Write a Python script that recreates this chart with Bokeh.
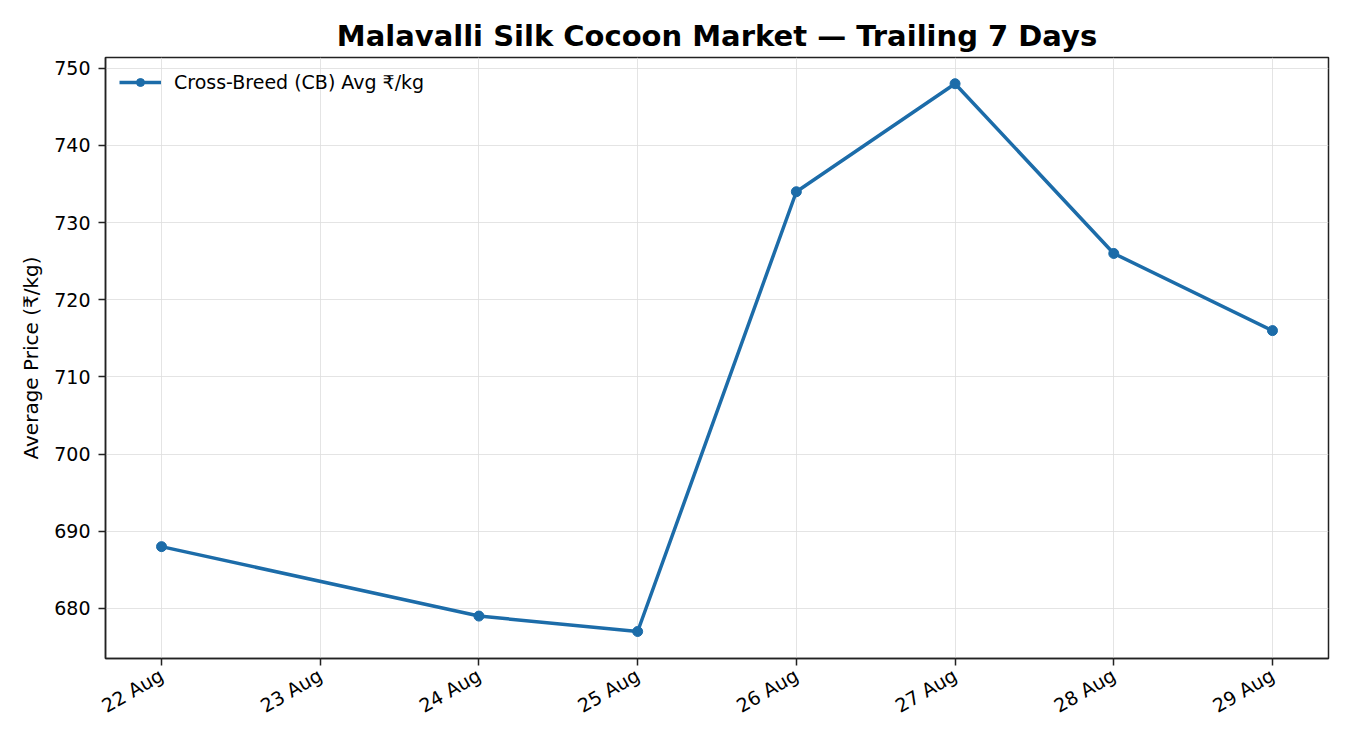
import math
from datetime import datetime, timedelta
from bokeh.plotting import figure
from bokeh.models import Range1d, DatetimeTickFormatter, DaysTicker, Legend, LegendItem, ColumnDataSource
from bokeh.embed import file_html
from bokeh.resources import INLINE

dates = ["2024-08-22", "2024-08-24", "2024-08-25", "2024-08-26", "2024-08-27", "2024-08-28", "2024-08-29"]
prices = [688, 679, 677, 734, 748, 726, 716]
y_ticks = [680, 690, 700, 710, 720, 730, 740, 750]
series_label = "Cross-Breed (CB) Avg ₹/kg"
title_text = "Malavalli Silk Cocoon Market — Trailing 7 Days"
y_label = "Average Price (₹/kg)"

x = [datetime.strptime(d, "%Y-%m-%d") for d in dates]
src = ColumnDataSource(dict(x=x, y=prices))

color = "#1c6ca9"
FONT = "DejaVu Sans"

start = x[0] - timedelta(days=0.353)
end = x[-1] + timedelta(days=0.353)

p = figure(width=1350, height=750, output_backend="svg", toolbar_location=None,
           x_axis_type="datetime",
           x_range=Range1d(start, end), y_range=Range1d(673.5, 751.4),
           min_border_left=105, min_border_right=22, min_border_top=57, min_border_bottom=92)

p.title.text = title_text
p.title.align = "center"
p.title.text_font = FONT
p.title.text_font_size = "29px"
p.title.text_font_style = "bold"
p.title.text_color = "black"
p.title.standoff = 10

line_r = p.line("x", "y", source=src, line_color=color, line_width=3.5)
pt_r = p.scatter("x", "y", source=src, size=10, fill_color=color, line_color=color)

legend = Legend(items=[LegendItem(label=series_label, renderers=[line_r, pt_r])],
                location="top_left", border_line_color=None, background_fill_alpha=0,
                label_text_font=FONT, label_text_font_size="19px", label_text_color="black",
                glyph_width=42, glyph_height=20, padding=4, margin=14, label_standoff=13)
p.add_layout(legend, "center")

p.xaxis.ticker = DaysTicker(days=list(range(1, 32)))
p.xaxis.formatter = DatetimeTickFormatter(days="%d %b", months="%d %b")
p.xaxis.major_label_orientation = math.pi / 6
p.yaxis.ticker = y_ticks
p.yaxis.axis_label = y_label
p.yaxis.axis_label_standoff = 8

for ax in (p.xaxis, p.yaxis):
    ax.major_label_text_font = FONT
    ax.major_label_text_font_size = "19px"
    ax.major_label_text_color = "black"
    ax.major_label_standoff = 8
    ax.axis_label_text_font = FONT
    ax.axis_label_text_font_size = "20px"
    ax.axis_label_text_font_style = "normal"
    ax.axis_label_text_color = "black"
    ax.axis_line_color = "#222222"
    ax.axis_line_width = 1.5
    ax.major_tick_line_color = "#222222"
    ax.major_tick_line_width = 1.5
    ax.major_tick_out = 7
    ax.major_tick_in = 0
    ax.minor_tick_line_color = None

p.outline_line_color = "#222222"
p.outline_line_width = 1.5
p.xgrid.grid_line_color = "#dddddd"
p.ygrid.grid_line_color = "#dddddd"
p.xgrid.grid_line_alpha = 0.8
p.ygrid.grid_line_alpha = 0.8

open("out.html", "w").write(file_html(p, INLINE))
